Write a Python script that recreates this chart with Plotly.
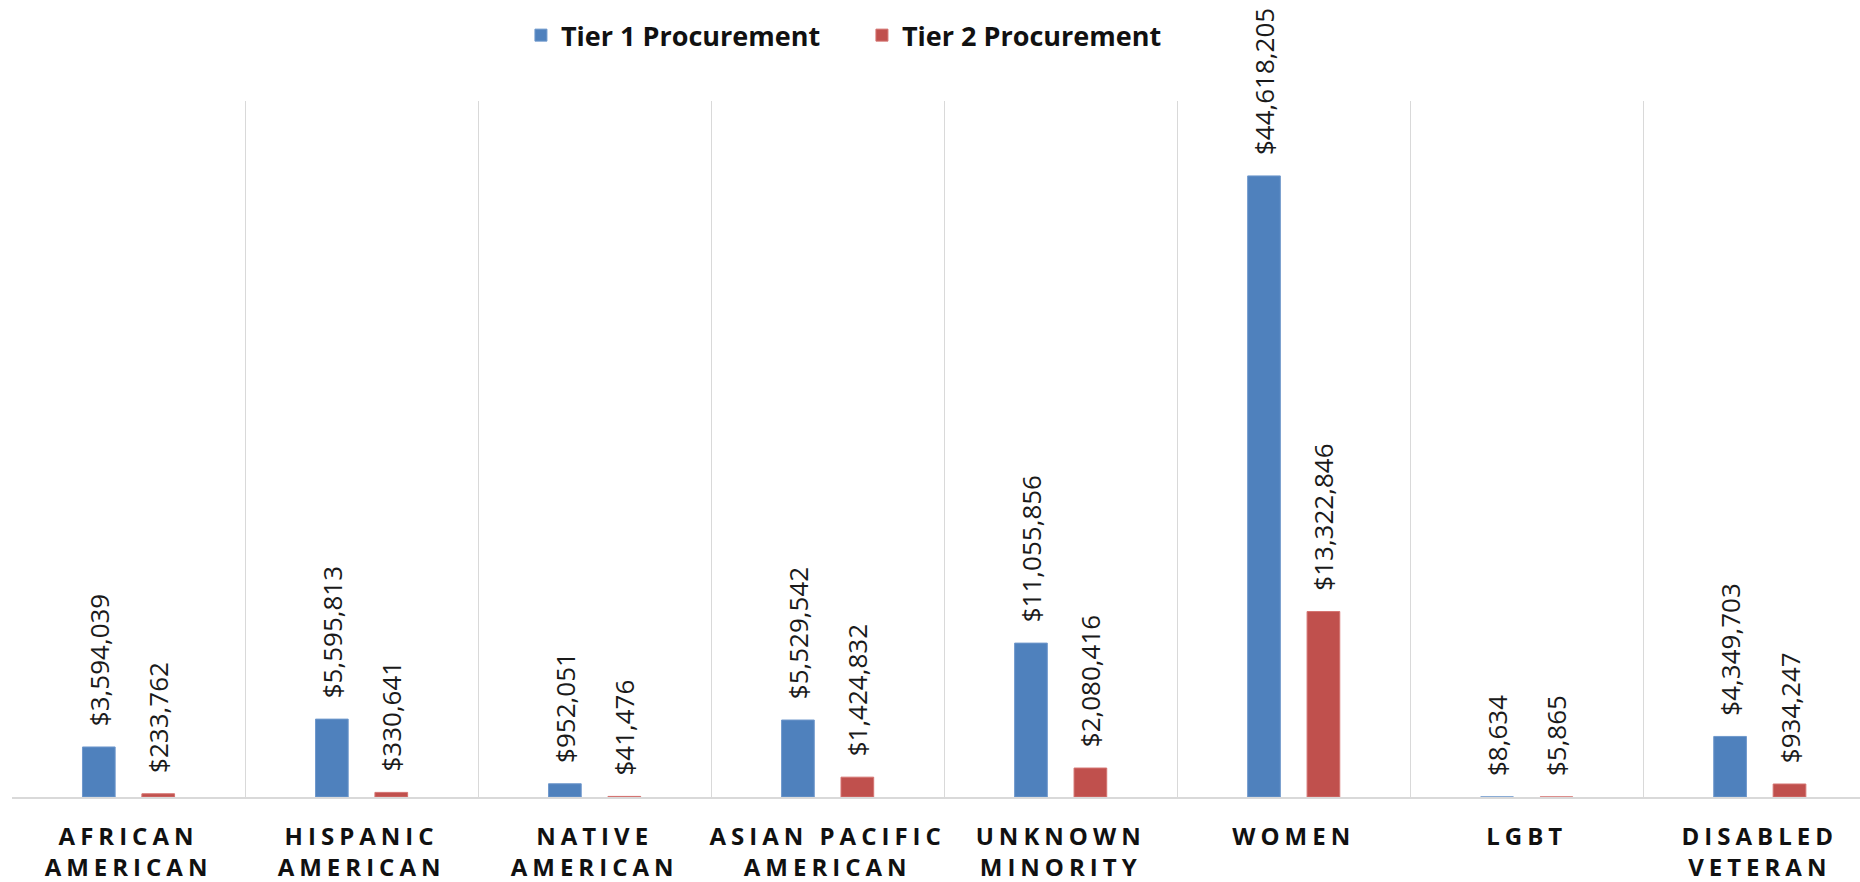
import plotly.graph_objects as go

# categories and values
categories = ["AFRICAN<br>AMERICAN", "HISPANIC<br>AMERICAN", "NATIVE<br>AMERICAN",
              "ASIAN PACIFIC<br>AMERICAN", "UNKNOWN<br>MINORITY", "WOMEN", "LGBT",
              "DISABLED<br>VETERAN"]
tier1 = [3594039, 5595813, 952051, 5529542, 11055856, 44618205, 8634, 4349703]
tier2 = [233762, 330641, 41476, 1424832, 2080416, 13322846, 5865, 934247]

blue = "#4F81BD"
red = "#C0504D"
label_font = dict(family="Open Sans, sans-serif", size=26, color="#1a1a1a")

fig = go.Figure()
for name, vals, col, edge in [("Tier 1 Procurement", tier1, blue, "#6f98cc"),
                              ("Tier 2 Procurement", tier2, red, "#d47370")]:
    fig.add_trace(go.Bar(
        x=categories, y=vals, name=name,
        marker=dict(color=col, line=dict(color=edge, width=1)),
        texttemplate="\u00a0\u00a0\u2009%{y:$,.0f}",
        textposition="outside", textangle=-90,
        constraintext="none", cliponaxis=False,
        outsidetextfont=label_font,
    ))

fig.update_layout(
    width=1860, height=882,
    paper_bgcolor="white", plot_bgcolor="white",
    barmode="group", bargap=0.49, bargroupgap=0.45,
    margin=dict(l=12, r=0, t=101, b=85, autoexpand=False),
    font=dict(family="Open Sans, sans-serif", color="#111"),
    legend=dict(orientation="h", x=0.2754, xanchor="left", y=1.094, yanchor="middle",
                font=dict(size=27, color="#111", weight="bold"), traceorder="normal",
                entrywidth=296, entrywidthmode="pixels"),
    showlegend=True,
)
fig.update_xaxes(
    type="category", range=[-0.5, 7.43], tickson="boundaries",
    showgrid=True, gridcolor="#d9d9d9", gridwidth=1,
    showline=True, linecolor="#d9d9d9", linewidth=2,
    ticks="", ticklabelstandoff=17, automargin=False,
    tickfont=dict(family="Open Sans, sans-serif", size=24, color="#111", weight="bold"),
)
fig.update_yaxes(range=[0, 50000000], visible=False, showgrid=False, zeroline=False)

# no page margin, and letter-spaced category labels as in the original
page_js = """
document.body.style.margin = '0';
document.querySelectorAll('.xtick text').forEach(function(t){
  t.style.letterSpacing = '5px';
});
"""

fig.write_html("out.html", post_script=page_js, config={"displayModeBar": False})
